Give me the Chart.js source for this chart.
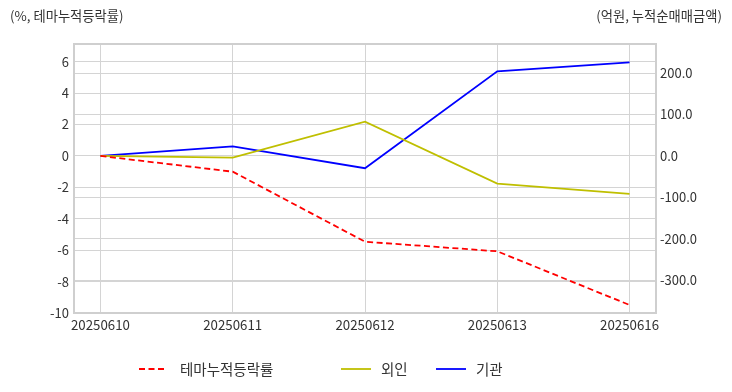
<!DOCTYPE html>
<html>
<head>
<meta charset="utf-8">
<script src="https://cdn.jsdelivr.net/npm/chart.js@4/dist/chart.umd.min.js"></script>
<style>
html,body{margin:0;padding:0;background:#fff;}
#wrap{width:732px;height:392px;position:relative;}
</style>
</head>
<body>
<div id="wrap"><canvas id="c" width="732" height="392"></canvas></div>
<script>
const categories = ['20250610','20250611','20250612','20250613','20250616'];
const themeRate = [0, -1.0, -5.46, -6.07, -9.49];
const foreign = [0, -4, 82.7, -66.7, -91.6];
const institution = [0, 23, -29.6, 204, 225.8];
const leftTicks = [-10, -8, -6, -4, -2, 0, 2, 4, 6];
const rightTicks = [-300, -200, -100, 0, 100, 200];
const leftTitle = '(%, 테마누적등락률)';
const rightTitle = '(억원, 누적순매매금액)';
const seriesNames = ['테마누적등락률', '외인', '기관'];

const FONT = "'Noto Sans CJK KR', 'Noto Sans', sans-serif";
const TXT = '#333333';
const GRID = '#d4d4d4';

const toXY = arr => arr.map((v, i) => ({x: i, y: v}));

const decor = {
  id: 'decor',
  beforeDatasetsDraw(chart) {
    const {ctx, chartArea: a} = chart;
    ctx.save();
    ctx.strokeStyle = '#cfcfcf';
    ctx.lineWidth = 2;
    ctx.strokeRect(a.left, a.top, a.right - a.left, a.bottom - a.top);
    ctx.restore();
  },
  afterDraw(chart) {
    const {ctx} = chart;
    ctx.save();
    ctx.font = '13.3px ' + FONT;
    ctx.fillStyle = TXT;
    ctx.textBaseline = 'middle';
    ctx.textAlign = 'left';
    ctx.fillText(leftTitle, 10, 16);
    ctx.textAlign = 'right';
    ctx.fillText(rightTitle, 722, 16);
    // legend
    const items = [
      {sx: 139, ex: 167, tx: 180},
      {sx: 341, ex: 371, tx: 381},
      {sx: 436, ex: 466, tx: 476}
    ];
    const y = 369;
    ctx.font = '14.5px ' + FONT;
    ctx.textAlign = 'left';
    chart.data.datasets.forEach((ds, i) => {
      const it = items[i];
      ctx.beginPath();
      ctx.strokeStyle = ds.borderColor;
      ctx.lineWidth = ds.borderWidth;
      ctx.setLineDash(ds.borderDash || []);
      ctx.moveTo(it.sx, y);
      ctx.lineTo(it.ex, y);
      ctx.stroke();
      ctx.setLineDash([]);
      ctx.fillStyle = TXT;
      ctx.fillText(ds.label, it.tx, y);
    });
    ctx.restore();
  }
};

new Chart(document.getElementById('c'), {
  type: 'line',
  data: {
    datasets: [
      {label: seriesNames[0], data: toXY(themeRate), yAxisID: 'y', borderColor: '#ff0000', borderWidth: 1.8, borderDash: [6, 3.5], pointRadius: 0, tension: 0},
      {label: seriesNames[1], data: toXY(foreign), yAxisID: 'y1', borderColor: '#bfbf00', borderWidth: 1.8, pointRadius: 0, tension: 0},
      {label: seriesNames[2], data: toXY(institution), yAxisID: 'y1', borderColor: '#0000ff', borderWidth: 1.8, pointRadius: 0, tension: 0}
    ]
  },
  options: {
    responsive: false,
    animation: false,
    layout: {padding: {top: 44, left: 0, right: 0, bottom: 0}},
    plugins: {legend: {display: false}, tooltip: {enabled: false}},
    scales: {
      x: {
        type: 'linear', min: -0.2, max: 4.2,
        afterBuildTicks: ax => { ax.ticks = categories.map((c, i) => ({value: i})); },
        afterFit: ax => { ax.height = 79; },
        ticks: {callback: v => categories[v], color: TXT, font: {family: FONT, size: 13.3}, padding: 4, maxRotation: 0, autoSkip: false},
        grid: {color: GRID, lineWidth: 1, drawTicks: false},
        border: {display: false}
      },
      y: {
        position: 'left', min: -10, max: 7.13,
        afterBuildTicks: ax => { ax.ticks = leftTicks.map(v => ({value: v})); },
        afterFit: ax => { ax.width = 74; },
        ticks: {color: TXT, font: {family: FONT, size: 13}, padding: 5},
        grid: {color: GRID, lineWidth: 1, drawTicks: false},
        border: {display: false}
      },
      y1: {
        position: 'right', min: -379, max: 270,
        afterBuildTicks: ax => { ax.ticks = rightTicks.map(v => ({value: v})); },
        afterFit: ax => { ax.width = 76; },
        ticks: {color: TXT, font: {family: FONT, size: 13}, padding: 4, callback: v => Number(v).toFixed(1)},
        grid: {color: GRID, lineWidth: 1, drawTicks: false},
        border: {display: false}
      }
    }
  },
  plugins: [decor]
});
</script>
</body>
</html>
